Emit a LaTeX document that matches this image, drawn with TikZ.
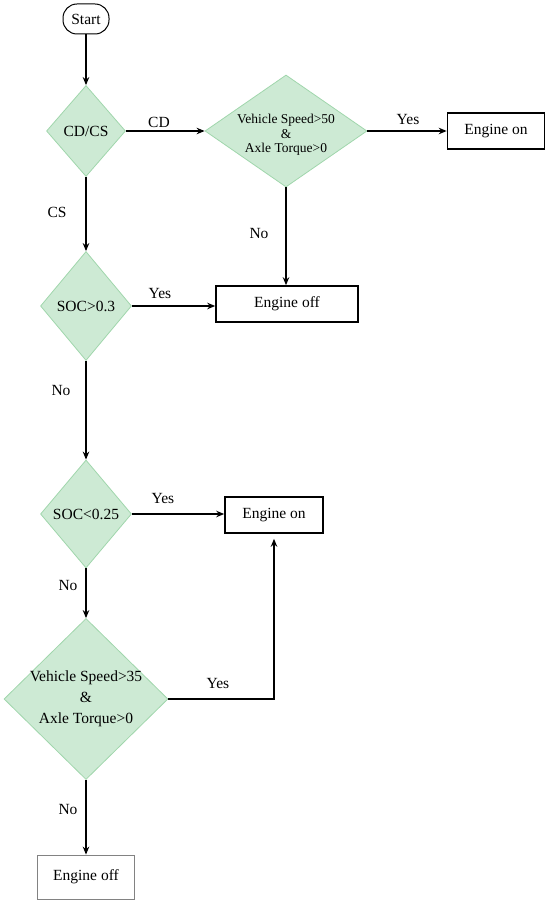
\documentclass[tikz,border=0pt]{standalone}
\usepackage{fontspec}
\setmainfont{Liberation Serif}
\usetikzlibrary{shapes.geometric,arrows.meta}
\definecolor{dfill}{RGB}{205,234,212}
\definecolor{dline}{RGB}{160,214,172}
\definecolor{thinbox}{RGB}{130,130,130}
\begin{document}
\begin{tikzpicture}[x=1pt,y=-1pt,
  every node/.style={font=\fontsize{15.5}{18}\selectfont, inner sep=0pt},
  decision/.style={diamond, draw=dline, fill=dfill, line width=0.8pt},
  startnode/.style={draw=black, line width=1pt, rounded corners=14pt, minimum width=46pt, minimum height=30pt},
  boxthick/.style={draw=black, line width=1.6pt, minimum height=36pt},
  boxthin/.style={draw=thinbox, line width=0.8pt},
  flow/.style={draw=black, line width=1.6pt, -{Stealth[length=8pt,width=6.5pt]}}
]
\useasboundingbox (0,0) rectangle (550,904);

% nodes
\node[startnode] (start) at (86,19) {Start};
\node[decision, minimum width=79pt, minimum height=91pt, label={[name=t1]center:CD/CS}] (d1) at (86,131) {};
\node[decision, minimum width=162pt, minimum height=112pt,
  label={[name=t2, align=center, font=\fontsize{13.5}{14.5}\selectfont, yshift=-4pt]center:Vehicle Speed>50\\\&\\Axle Torque>0}] (d2) at (286,131) {};
\node[boxthick, minimum width=97pt] (eon1) at (496,131) {Engine on};
\node[boxthick, minimum width=142pt] (eoff1) at (287,304) {Engine off};
\node[decision, minimum width=91pt, minimum height=109pt, label={[name=t3]center:SOC>0.3}] (d3) at (86,306) {};
\node[decision, minimum width=91pt, minimum height=108pt, label={[name=t4]center:SOC<0.25}] (d4) at (86,514) {};
\node[boxthick, minimum width=98pt] (eon2) at (274,515) {Engine on};
\node[decision, minimum width=164pt, minimum height=161pt,
  label={[name=t5, align=center, font=\fontsize{15.5}{21}\selectfont]center:Vehicle Speed>35\\\&\\Axle Torque>0}] (d5) at (86,699) {};
\node[boxthin, minimum width=97pt, minimum height=44pt] (eoff2) at (86,877) {Engine off};

% connectors
\draw[flow] (start) -- (d1);
\draw[flow] (d1.east) -- (d2.west);
\draw[flow] (d2.east) -- (eon1.west);
\draw[flow] (d2.south) -- (d2.south |- eoff1.north);
\draw[flow] (d1.south) -- (d3.north);
\draw[flow] (d3.east) -- (d3.east -| eoff1.west);
\draw[flow] (d3.south) -- (d4.north);
\draw[flow] (d4.east) -- (d4.east -| eon2.west);
\draw[flow] (d4.south) -- (d5.north);
\draw[flow, shorten >=5pt] (d5.east) -| (eon2.south);
\draw[flow] (d5.south) -- (eoff2.north);

% connector labels
\node (lcd) at (159,122) {CD};
\node (lcs) at (57,212) {CS};
\node (ly1) at (408,120) {Yes};
\node (ln1) at (259,234) {No};
\node (ly2) at (160,293) {Yes};
\node (ln2) at (61,390) {No};
\node (ly3) at (163,498) {Yes};
\node (ln3) at (68,585) {No};
\node (ly4) at (218,683) {Yes};
\node (ln4) at (68,809) {No};
\end{tikzpicture}
\end{document}
